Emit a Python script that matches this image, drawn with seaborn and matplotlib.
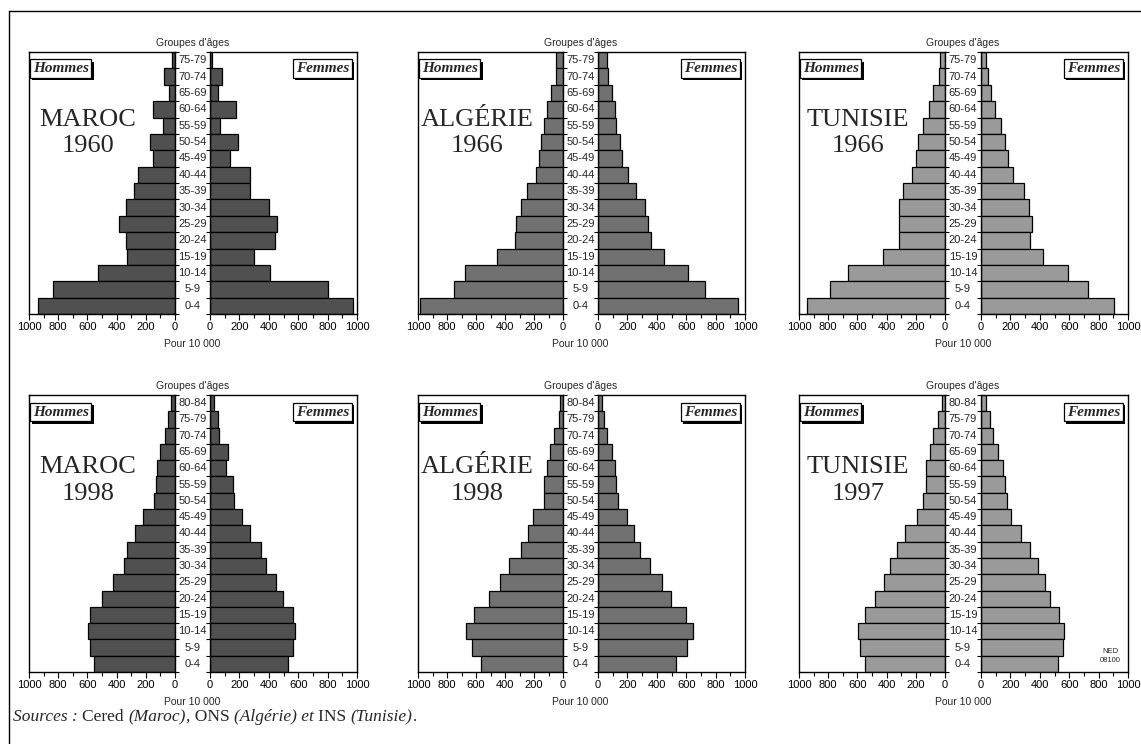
"""
Pyramides des âges - Maghreb (Maroc, Algérie, Tunisie), années 1960 et 1990.
Six pyramides en deux rangées, hommes à gauche, femmes à droite.
"""

import numpy as np
import pandas as pd
import matplotlib
matplotlib.use("Agg")
import matplotlib.pyplot as plt
import matplotlib.patheffects as pe
from matplotlib import transforms
from matplotlib.lines import Line2D
from matplotlib.ticker import MultipleLocator
import seaborn as sns

# ── Données (pour 10 000), du groupe le plus âgé au plus jeune ──────────────
AGES_16 = ["75-79", "70-74", "65-69", "60-64", "55-59", "50-54", "45-49", "40-44",
           "35-39", "30-34", "25-29", "20-24", "15-19", "10-14", "5-9", "0-4"]
AGES_17 = ["80-84"] + AGES_16

maroc_1960_h = [20, 74, 40, 154, 85, 170, 154, 253, 281, 339, 385, 339, 327, 530, 839, 938]
maroc_1960_f = [15, 82, 52, 174, 68, 190, 137, 269, 274, 402, 457, 441, 297, 406, 806, 973]

algerie_1966_h = [51, 46, 80, 110, 133, 149, 166, 189, 246, 287, 322, 333, 455, 678, 754, 989]
algerie_1966_f = [62, 69, 92, 119, 124, 153, 165, 206, 256, 320, 343, 359, 451, 611, 725, 954]

tunisie_1966_h = [34, 39, 80, 108, 153, 183, 199, 229, 291, 313, 313, 313, 423, 664, 785, 945]
tunisie_1966_f = [34, 45, 68, 98, 136, 166, 182, 220, 291, 325, 348, 330, 420, 591, 727, 902]

maroc_1998_h = [28, 51, 69, 101, 120, 131, 147, 217, 276, 332, 350, 424, 500, 581, 599, 585, 558]
maroc_1998_f = [30, 53, 59, 121, 110, 155, 162, 219, 269, 349, 379, 447, 498, 562, 578, 566, 532]

algerie_1998_h = [18, 30, 60, 87, 110, 128, 133, 206, 243, 289, 374, 436, 511, 615, 672, 626, 564]
algerie_1998_f = [28, 39, 62, 93, 116, 125, 139, 194, 248, 287, 356, 433, 495, 602, 648, 606, 532]

tunisie_1997_h = [23, 46, 81, 104, 132, 132, 150, 190, 273, 329, 375, 421, 481, 551, 597, 583, 551]
tunisie_1997_f = [37, 64, 82, 114, 151, 160, 174, 205, 274, 333, 388, 434, 470, 532, 562, 555, 521]

PANELS = [
    # (pays, année, groupes, hommes, femmes, teinte)
    ("MAROC", "1960", AGES_16, maroc_1960_h, maroc_1960_f, "#505050"),
    ("ALGÉRIE", "1966", AGES_16, algerie_1966_h, algerie_1966_f, "#717171"),
    ("TUNISIE", "1966", AGES_16, tunisie_1966_h, tunisie_1966_f, "#9a9a9a"),
    ("MAROC", "1998", AGES_17, maroc_1998_h, maroc_1998_f, "#505050"),
    ("ALGÉRIE", "1998", AGES_17, algerie_1998_h, algerie_1998_f, "#717171"),
    ("TUNISIE", "1997", AGES_17, tunisie_1997_h, tunisie_1997_f, "#9a9a9a"),
]

SOURCES = [("Sources : ", "italic"), ("Cered ", "normal"), ("(Maroc)", "italic"),
           (", ONS ", "normal"), ("(Algérie) et ", "italic"), ("INS ", "normal"),
           ("(Tunisie)", "italic"), (".", "normal")]

# ── Mise en page (pixels) ───────────────────────────────────────────────────
W, H = 1141, 744
COLS = [(29, 175, 210, 357), (418, 563, 598, 745), (799, 945, 981, 1128)]
ROWS = [(52, 314), (395, 672)]

SERIF = ["Liberation Serif", "DejaVu Serif"]
SANS = ["Liberation Sans", "DejaVu Sans"]

sns.set_theme(style="ticks")
plt.rcParams.update({
    "font.family": SANS,
    "axes.edgecolor": "black",
    "axes.linewidth": 1.0,
    "xtick.color": "black",
    "ytick.color": "black",
    "figure.facecolor": "white",
    "axes.facecolor": "white",
})


def frac(x0, y0, x1, y1):
    return [x0 / W, 1 - y1 / H, (x1 - x0) / W, (y1 - y0) / H]


def sex_box(ax, label, x, ha):
    t = ax.text(x, 0.962, label, transform=ax.transAxes, ha=ha, va="top",
                family=SERIF, style="italic", weight="bold", fontsize=11,
                bbox=dict(boxstyle="square,pad=0.18", fc="white", ec="black", lw=0.9))
    t.get_bbox_patch().set_path_effects([
        pe.SimplePatchShadow(offset=(1.8, -1.8), shadow_rgbFace="black", alpha=1),
        pe.Normal()])


def draw_side(ax, ages, values, color, left):
    df = pd.DataFrame({"age": ages, "value": values})
    sns.barplot(data=df, x="value", y="age", orient="h", color=color, saturation=1,
                edgecolor="black", linewidth=0.9, width=1.0, errorbar=None, ax=ax)
    n = len(ages)
    ax.set_ylim(n - 0.5, -0.5)
    ax.set_xlim((1000, 0) if left else (0, 1000))
    ax.set_xlabel("")
    ax.set_ylabel("")
    ax.xaxis.set_major_locator(MultipleLocator(200))
    ax.xaxis.set_minor_locator(MultipleLocator(100))
    ax.tick_params(axis="x", which="major", direction="out", length=4, width=0.8,
                   labelsize=8, pad=2)
    ax.tick_params(axis="x", which="minor", direction="out", length=3, width=0.8)
    ax.set_yticks(np.arange(-0.5, n, 1))
    ax.set_yticklabels([])
    ax.yaxis.set_ticks_position("right" if left else "left")
    ax.tick_params(axis="y", direction="out", length=3, width=0.8)
    for s in ax.spines.values():
        s.set_visible(True)


def draw_panel(fig, idx, panel):
    pays, annee, ages, hommes, femmes, color = panel
    row, col = divmod(idx, 3)
    y0, y1 = ROWS[row]
    lx0, lx1, rx0, rx1 = COLS[col]

    axL = fig.add_axes(frac(lx0, y0, lx1, y1))
    axR = fig.add_axes(frac(rx0, y0, rx1, y1))
    draw_side(axL, ages, hommes, color, left=True)
    draw_side(axR, ages, femmes, color, left=False)

    # étiquettes des groupes d'âges dans la colonne centrale
    cx = (lx1 + rx0) / 2 / W
    trans = transforms.blended_transform_factory(fig.transFigure, axR.transData)
    for i, a in enumerate(ages):
        fig.text(cx, i, a, transform=trans, ha="center", va="center", fontsize=8)

    fig.text(cx, 1 - (y0 - 9) / H, "Groupes d'âges", ha="center", va="center", fontsize=7.5)
    fig.text(cx, 1 - (y1 + 30) / H, "Pour 10 000", ha="center", va="center", fontsize=7.5)

    sex_box(axL, "Hommes", 0.025, "left")
    sex_box(axR, "Femmes", 0.945, "right")

    axL.text(0.405, 0.74, pays, transform=axL.transAxes, ha="center", va="center",
             family=SERIF, fontsize=19)
    axL.text(0.405, 0.643, annee, transform=axL.transAxes, ha="center", va="center",
             family=SERIF, fontsize=19)
    return axR


def draw_sources(fig, x_px, y_px, size=12):
    # morceaux romains / italiques posés bout à bout sur la même ligne de base
    renderer = fig.canvas.get_renderer()
    x = x_px
    for txt, st in SOURCES:
        t = fig.text(x / W, 1 - y_px / H, txt, family=SERIF, style=st, fontsize=size,
                     ha="left", va="baseline")
        x += t.get_window_extent(renderer=renderer).width


def build():
    fig = plt.figure(figsize=(W / 100, H / 100), dpi=100)

    last_ax = None
    for i, p in enumerate(PANELS):
        last_ax = draw_panel(fig, i, p)

    # repère de la carte
    last_ax.text(0.88, 0.075, "NED", transform=last_ax.transAxes, ha="center",
                 va="center", fontsize=5.5)
    last_ax.text(0.88, 0.04, "08100", transform=last_ax.transAxes, ha="center",
                 va="center", fontsize=5.5)

    # cadre extérieur
    fig.add_artist(Line2D([9 / W, 9 / W], [0, 1 - 11 / H], color="black", lw=1))
    fig.add_artist(Line2D([9 / W, 1], [1 - 11 / H, 1 - 11 / H], color="black", lw=1))

    draw_sources(fig, 13, 721, size=12.5)

    fig.savefig("out.png", dpi=100, facecolor="white")
    plt.close(fig)


if __name__ == "__main__":
    build()
